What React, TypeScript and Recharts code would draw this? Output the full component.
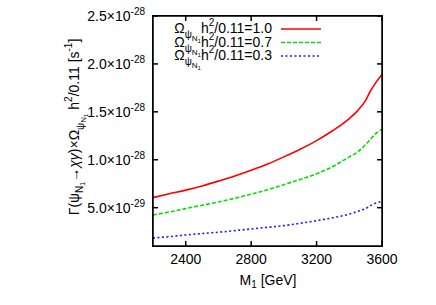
import { Legend, Line, LineChart, XAxis, YAxis } from "recharts";

// M_1 in GeV
const masses = [2200, 2300, 2400, 2500, 2600, 2700, 2800, 2900, 3000, 3100, 3200, 3300, 3400, 3450, 3500, 3530, 3560, 3600];
// rate in units of 1e-28 s^-1
const omega10 = [0.605, 0.645, 0.683, 0.727, 0.777, 0.83, 0.89, 0.955, 1.03, 1.11, 1.2, 1.305, 1.43, 1.51, 1.62, 1.72, 1.8, 1.89];
const omega07 = [0.424, 0.455, 0.49, 0.525, 0.56, 0.598, 0.64, 0.687, 0.74, 0.795, 0.853, 0.93, 1.03, 1.08, 1.16, 1.215, 1.27, 1.32];
const omega03 = [0.183, 0.198, 0.215, 0.23, 0.244, 0.26, 0.278, 0.295, 0.313, 0.337, 0.364, 0.395, 0.433, 0.46, 0.49, 0.521, 0.545, 0.565];

const seriesLabels = ["1.0", "0.7", "0.3"];
const xTicks = [2400, 2800, 3200, 3600];
const yTicks = [0.5, 1.0, 1.5, 2.0, 2.5];
const yTickLabels = ["5.0", "1.0", "1.5", "2.0", "2.5"];
const yTickExps = ["-29", "-28", "-28", "-28", "-28"];
const xDomain = [2200, 3600];
const yDomain = [0.1, 2.5];

const rows = masses.map((m, i) => ({ m, a: omega10[i], b: omega07[i], c: omega03[i] }));

const SERIES = [
  { key: "a", color: "#ff0000", dash: undefined as string | undefined },
  { key: "b", color: "#00e000", dash: "4 2" },
  { key: "c", color: "#1a1aff", dash: "2 2.5" },
];

const FONT = '"Liberation Sans", Arial, Helvetica, sans-serif';
const FRAME = "#000";
const FRAME_W = 1.5;

function YTick(props: any) {
  const { x, y, index } = props;
  return (
    <text x={x} y={y} dy="0.36em" textAnchor="end" fontSize={14} fill="#000" stroke="none" fontFamily={FONT}>
      {yTickLabels[index]}×10
      <tspan fontSize={10} dy={-6}>{yTickExps[index]}</tspan>
    </text>
  );
}

function Empty() {
  return <g />;
}

function YTitle() {
  return (
    <text
      x={79}
      y={127}
      transform="rotate(-90 79 127)"
      textAnchor="middle"
      fontSize={14}
      fill="#000"
      stroke="none"
      fontFamily={FONT}
    >
      Γ(ψ
      <tspan fontSize={10} dy={4}>N</tspan>
      <tspan fontSize={7} dy={2}>1</tspan>
      <tspan fontSize={14} dy={-6}>→</tspan>
      <tspan fontStyle="italic">χγ</tspan>
      <tspan>)×Ω</tspan>
      <tspan fontSize={10} dy={5}>ψ</tspan>
      <tspan fontSize={8} dy={2}>N</tspan>
      <tspan fontSize={6} dy={2}>1</tspan>
      <tspan fontSize={14} dy={-9}> h</tspan>
      <tspan fontSize={10} dy={-7}>2</tspan>
      <tspan fontSize={14} dy={7}>/0.11 [s</tspan>
      <tspan fontSize={10} dy={-7}>-1</tspan>
      <tspan fontSize={14} dy={7}>]</tspan>
    </text>
  );
}

function XTitle() {
  return (
    <text x={268} y={285} textAnchor="middle" fontSize={14} fill="#000" stroke="none" fontFamily={FONT}>
      M
      <tspan fontSize={10} dy={3}>1</tspan>
      <tspan fontSize={14} dy={-3}> [GeV]</tspan>
    </text>
  );
}

function KeyBox() {
  return (
    <svg width={180} height={70} style={{ overflow: "visible" }}>
      {SERIES.map((s, i) => {
        const base = 17 + i * 13.5;
        return (
          <g key={s.key}>
            <text x={112} y={base} textAnchor="end" fontSize={14} fill="#000" fontFamily={FONT}>
              Ω
              <tspan fontSize={10} dy={5}>ψ</tspan>
              <tspan fontSize={8} dy={3}>N</tspan>
              <tspan fontSize={6} dy={2}>1</tspan>
              <tspan fontSize={14} dy={-10}>h</tspan>
              <tspan fontSize={10} dy={-7}>2</tspan>
              <tspan fontSize={14} dy={7}>/0.11={seriesLabels[i]}</tspan>
            </text>
            <line x1={121} x2={161} y1={base - 4} y2={base - 4} stroke={s.color} strokeWidth={1.6} strokeDasharray={s.dash} />
          </g>
        );
      })}
    </svg>
  );
}

export default function App() {
  return (
    <div style={{ position: "absolute", left: 0, top: 0, width: 436, height: 305, background: "#fff" }}>
      <LineChart width={436} height={305} data={rows} margin={{ top: 15, right: 53, bottom: 0, left: 0 }}>
        <XAxis
          dataKey="m"
          type="number"
          domain={xDomain}
          ticks={xTicks}
          allowDataOverflow
          height={59}
          tickSize={-5}
          tickMargin={13}
          tick={{ fontSize: 14, fill: "#000", stroke: "none", fontFamily: FONT }}
          stroke={FRAME}
          strokeWidth={FRAME_W}
          label={{ content: () => <XTitle /> }}
        />
        {/* mirrored top/right axes close the frame and carry inner ticks */}
        <XAxis
          xAxisId="top"
          orientation="top"
          dataKey="m"
          type="number"
          domain={xDomain}
          ticks={xTicks}
          allowDataOverflow
          height={1}
          tickSize={-5}
          tick={<Empty />}
          stroke={FRAME}
          strokeWidth={FRAME_W}
        />
        <YAxis
          type="number"
          domain={yDomain}
          ticks={yTicks}
          allowDataOverflow
          width={153}
          tickSize={-5}
          tickMargin={13}
          tick={<YTick />}
          stroke={FRAME}
          strokeWidth={FRAME_W}
          label={{ content: () => <YTitle /> }}
        />
        <YAxis
          yAxisId="right"
          orientation="right"
          type="number"
          domain={yDomain}
          ticks={yTicks}
          allowDataOverflow
          width={1}
          tickSize={-5}
          tick={<Empty />}
          stroke={FRAME}
          strokeWidth={FRAME_W}
        />
        <Legend
          layout="horizontal"
          verticalAlign="middle"
          align="center"
          content={() => <KeyBox />}
          wrapperStyle={{ left: 160, top: 16, width: 180, height: 70 }}
        />
        <Line
          xAxisId="top"
          yAxisId="right"
          dataKey="a"
          stroke="none"
          dot={false}
          legendType="none"
          isAnimationActive={false}
        />
        {SERIES.map((s) => (
          <Line
            key={s.key}
            dataKey={s.key}
            type="monotone"
            stroke={s.color}
            strokeWidth={1.6}
            strokeDasharray={s.dash}
            dot={false}
            isAnimationActive={false}
          />
        ))}
      </LineChart>
      {/* plot border, drawn in HTML so the thin frame is always crisp */}
      <div
        style={{
          position: "absolute",
          left: 152,
          top: 15,
          width: 231,
          height: 232,
          boxSizing: "border-box",
          border: "1px solid #000",
          pointerEvents: "none",
        }}
      />
    </div>
  );
}
